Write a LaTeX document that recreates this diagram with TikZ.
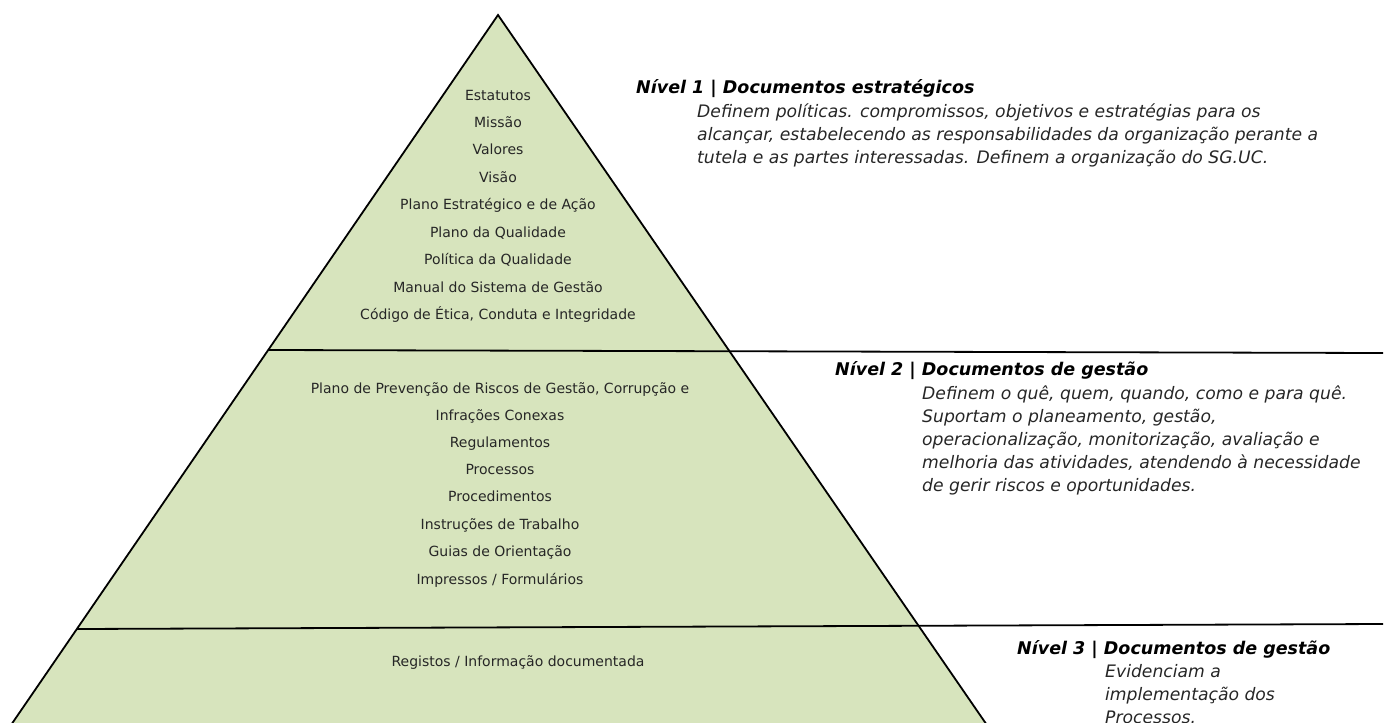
\documentclass[tikz,border=0pt]{standalone}
\usepackage{fontspec}
\setmainfont{DejaVu Sans}
\definecolor{pyrgreen}{HTML}{D7E4BD}
\tikzset{
  edge/.style={line width=1.8pt, black},
  sep/.style={line width=1.8pt, black},
  item/.style={anchor=mid, inner sep=0pt, font=\fontsize{14}{16}\selectfont, text=black!85, yshift=-2pt},
  head/.style={anchor=mid west, inner sep=0pt, font=\fontsize{17.5}{20}\selectfont\bfseries\itshape, yshift=-2pt},
  body/.style={anchor=mid west, inner sep=0pt, font=\fontsize{17.2}{20}\selectfont\itshape, text=black!85, yshift=-2pt},
}
\begin{document}
\begin{tikzpicture}[x=1pt,y=-1pt]
\useasboundingbox (0,0) rectangle (1385,723);
\clip (0,0) rectangle (1385,723);
\coordinate (apex) at (498,15);
\coordinate (bl) at (-13,760);
\coordinate (br) at (1011,760);
\coordinate (s1l) at (269,350);
\coordinate (s1r) at (1383,353);
\coordinate (s2l) at (77,629);
\coordinate (s2r) at (1383,624);
\fill[pyrgreen] (apex) -- (br) -- (bl) -- cycle;
\draw[edge] (bl) -- (apex) -- (br);
\draw[sep] (s1l) -- (s1r);
\draw[sep] (s2l) -- (s2r);
% level 1 items
\node[item] (a1) at (498,96) {Estatutos};
\node[item] (a2) at (498,123) {Missão};
\node[item] (a3) at (498,150) {Valores};
\node[item] (a4) at (498,178) {Visão};
\node[item] (a5) at (498,205) {Plano Estratégico e de Ação};
\node[item] (a6) at (498,233) {Plano da Qualidade};
\node[item] (a7) at (498,260) {Política da Qualidade};
\node[item] (a8) at (498,288) {Manual do Sistema de Gestão};
\node[item] (a9) at (498,315) {Código de Ética, Conduta e Integridade};
% level 2 items
\node[item] (b1) at (500,389) {Plano de Prevenção de Riscos de Gestão, Corrupção e};
\node[item] (b2) at (500,416) {Infrações Conexas};
\node[item] (b3) at (500,443) {Regulamentos};
\node[item] (b4) at (500,470) {Processos};
\node[item] (b5) at (500,497) {Procedimentos};
\node[item] (b6) at (500,525) {Instruções de Trabalho};
\node[item] (b7) at (500,552) {Guias de Orientação};
\node[item] (b8) at (500,580) {Impressos / Formulários};
% level 3
\node[item] (c1) at (518,662) {Registos / Informação documentada};
% descriptions
\node[head] (h1) at (636,89) {Nível 1 | Documentos estratégicos};
\node[body] (d11) at (697,113) {Definem políticas. compromissos, objetivos e estratégias para os};
\node[body] (d12) at (697,136) {alcançar, estabelecendo as responsabilidades da organização perante a};
\node[body] (d13) at (697,159) {tutela e as partes interessadas. Definem a organização do SG.UC.};
\node[head] (h2) at (835,371) {Nível 2 | Documentos de gestão};
\node[body] (d21) at (922,395) {Definem o quê, quem, quando, como e para quê.};
\node[body] (d22) at (922,418) {Suportam o planeamento, gestão,};
\node[body] (d23) at (922,441) {operacionalização, monitorização, avaliação e};
\node[body] (d24) at (922,464) {melhoria das atividades, atendendo à necessidade};
\node[body] (d25) at (922,487) {de gerir riscos e oportunidades.};
\node[head] (h3) at (1017,650) {Nível 3 | Documentos de gestão};
\node[body] (d31) at (1105,673) {Evidenciam a};
\node[body] (d32) at (1105,696) {implementação dos};
\node[body] (d33) at (1105,719) {Processos.};
\end{tikzpicture}
\end{document}
